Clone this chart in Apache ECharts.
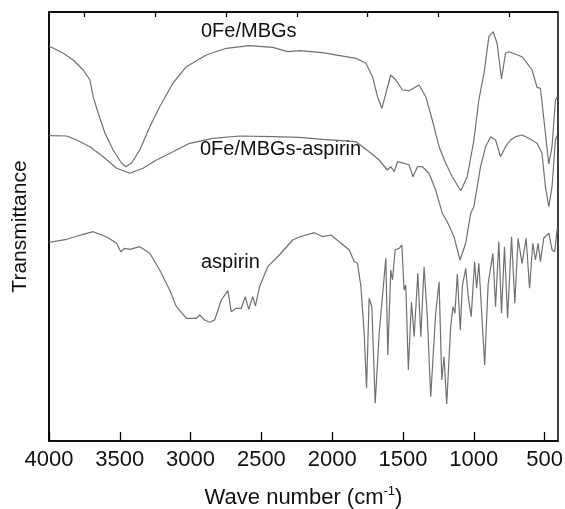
<!DOCTYPE html>
<html>
<head>
<meta charset="utf-8">
<script src="https://cdn.jsdelivr.net/npm/echarts@6/dist/echarts.min.js"></script>
<style>html,body{margin:0;padding:0;background:#fff}#c{width:565px;height:509px}</style>
</head>
<body>
<div id="c"></div>
<script>
// Wavenumber (cm-1) and relative transmittance (arbitrary units, offset traces)
const mbgsWave = [4000,3899,3829,3758,3711,3688,3653,3605,3547,3488,3457,3417,3359,3288,3218,3124,3030,2889,2748,2584,2420,2314,2232,2070,1832,1762,1715,1680,1649,1621,1586,1550,1504,1457,1386,1339,1293,1245,1198,1152,1092,1046,999,964,928,893,863,835,804,776,752,659,588,553,529,494,470,447,423,410];
const mbgsT    = [395,387.7,381,371,361,344.3,328,308,291,278,274.3,278,291,314.3,334.3,358,374.3,386,392.7,395.3,393.7,389.3,390.3,388.3,382.7,377.7,364.3,344.3,332.7,347.7,366,361,351,350.3,356,344.3,321,294.3,277.7,264.3,250.3,264.3,301,341,367.7,404.3,409.3,397.7,362,387.7,389.3,384.3,371,353.7,352.7,307.7,277,294.3,341,344.3];

const mbgsAspWave = [4000,3875,3805,3711,3617,3523,3429,3336,3241,3124,3007,2842,2654,2420,2232,2067,1832,1739,1668,1610,1586,1562,1539,1492,1457,1429,1398,1363,1316,1269,1222,1187,1140,1097,1057,1022,999,952,916,881,846,811,776,740,705,659,611,553,518,494,470,447,423,410];
const mbgsAspT    = [305.3,305,301,294.3,284.3,272.7,267.7,272.7,281,289.3,297.7,302.7,305,304.3,303.7,301.7,299.3,289.3,281,271,274.3,269.3,279.3,277.7,276,264.3,274.3,274.3,267.7,251,227.7,219.3,204.3,181,197.7,227.7,234.3,274.3,294.3,304.3,301,284.3,294.3,301,304.3,306,302.7,297.7,287.7,254.3,234.3,254.3,301,306];

const aspWave = [4000,3875,3758,3688,3594,3523,3493,3465,3429,3359,3288,3218,3148,3100,3030,2959,2936,2901,2866,2830,2783,2737,2713,2678,2642,2614,2589,2561,2542,2513,2455,2373,2279,2232,2126,2067,2008,1950,1879,1844,1821,1797,1774,1757,1739,1720,1696,1668,1645,1621,1607,1586,1574,1555,1527,1508,1492,1480,1462,1440,1421,1395,1374,1351,1328,1304,1269,1245,1226,1210,1191,1163,1147,1133,1116,1095,1081,1057,1039,1018,994,980,964,923,898,865,846,823,804,783,761,733,710,687,659,630,606,583,564,546,529,506,470,447,428,410];
const aspT    = [198.7,201.7,206.7,209.3,204.3,197.7,189.3,192.7,191.7,194.3,187.7,171,151,134.3,122.7,122.7,126,121,118.7,121,141,150.3,129.3,132.7,132.7,144.3,131.7,144.3,135,154.3,174.3,186,201,204,208.3,204.3,206,199.3,191,179.3,177.7,154.3,107.7,52.7,142.7,134.3,37.7,107.7,144.3,182.7,86,171,161,191,192.7,196,151,156,71,139.3,104.3,167.7,104.3,174.3,124.3,44.3,127.7,159.3,61,84.3,37,114.3,134.3,127.7,167,111,154.3,172.7,144.3,124.3,179.3,152.7,177.7,76,157.7,187.7,134.3,199.3,127.7,194.3,122.7,204.3,137.7,202.7,177.7,202.7,152.7,197.7,181,197.7,179.3,202.7,207.7,191,189.3,212.7];

const majorTicks = [500,1000,1500,2000,2500,3000,3500,4000];
const minorTicks = [750,1250,1750,2250,2750,3250,3750];
const seriesNames = ['0Fe/MBGs','0Fe/MBGs-aspirin','aspirin'];

const zip = (a,b) => a.map((x,i)=>[x,b[i]]);
const FONT = 'Liberation Sans, Arial, sans-serif';
const lineColor = '#707070';

const chart = echarts.init(document.getElementById('c'), null, {renderer:'canvas'});
const baseX = {
  type:'value', inverse:true, min:405, max:4000,
  splitLine:{show:false}, axisLine:{show:true, lineStyle:{color:'#000', width:1.5}}
};
chart.setOption({
  animation:false,
  backgroundColor:'#fff',
  grid:{left:49, right:7, top:12, bottom:68, outerBoundsMode:'none', containLabel:false, show:true, borderColor:'#000', borderWidth:1.5, backgroundColor:'transparent'},
  xAxis:[
    Object.assign({}, baseX, {
      name:'{a|Wave number (cm}{b|-1}{a|)}', nameLocation:'middle', nameGap:44,
      nameTextStyle:{rich:{a:{fontSize:22, fontFamily:FONT, color:'#111'}, b:{fontSize:13, fontFamily:FONT, color:'#111', padding:[0,0,12,0]}}},
      axisTick:{show:true, inside:true, length:9, lineStyle:{color:'#000', width:1.3}, customValues:majorTicks},
      axisLabel:{show:true, fontSize:22, fontFamily:FONT, color:'#111', margin:8, customValues:majorTicks, formatter:v=>String(v)}
    }),
    Object.assign({}, baseX, {
      axisTick:{show:true, inside:true, length:5, lineStyle:{color:'#000', width:1.3}, customValues:minorTicks},
      axisLabel:{show:false}
    })
  ],
  yAxis:{
    type:'value', min:0, max:429, name:'Transmittance', nameLocation:'middle', nameGap:18,
    nameTextStyle:{fontSize:21, fontFamily:FONT, color:'#111'},
    axisLabel:{show:false}, axisTick:{show:false}, splitLine:{show:false},
    axisLine:{show:true, lineStyle:{color:'#000', width:1.5}}
  },
  series:[
    {name:seriesNames[0], type:'line', showSymbol:false, data:zip(mbgsWave,mbgsT), lineStyle:{color:lineColor, width:1.2}},
    {name:seriesNames[1], type:'line', showSymbol:false, data:zip(mbgsAspWave,mbgsAspT), lineStyle:{color:lineColor, width:1.2}},
    {name:seriesNames[2], type:'line', showSymbol:false, data:zip(aspWave,aspT), lineStyle:{color:lineColor, width:1.2}}
  ],
  graphic:[
    {type:'text', left:201, top:21, style:{text:seriesNames[0], font:'20px '+FONT, fill:'#111'}},
    {type:'text', left:200, top:139, style:{text:seriesNames[1], font:'20px '+FONT, fill:'#111'}},
    {type:'text', left:201, top:252, style:{text:seriesNames[2], font:'20px '+FONT, fill:'#111'}}
  ]
});
</script>
</body>
</html>
